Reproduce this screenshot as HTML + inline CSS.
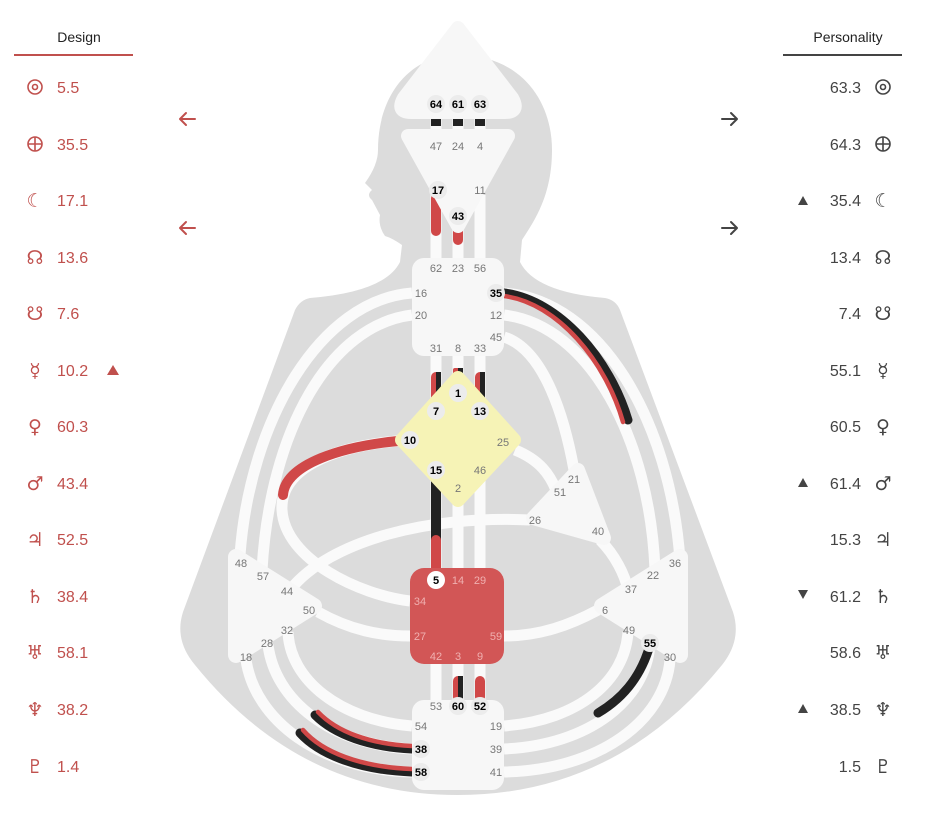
<!DOCTYPE html>
<html><head><meta charset="utf-8"><style>
body{margin:0;background:#fff;width:925px;height:822px;overflow:hidden;font-family:"Liberation Sans",sans-serif;}
</style></head><body>
<svg width="925" height="822" viewBox="0 0 925 822" xmlns="http://www.w3.org/2000/svg" font-family="Liberation Sans, sans-serif">
<!-- silhouette -->
<path fill="#dcdcdc" d="M458 55 C520 55 552 100 552 150 C552 195 535 220 522 240 L520 262 Q535 292 605 298 Q616 300 620 310 L733 612 Q742 640 722 665 Q616 795 458 795 Q300 795 195 665 Q174 640 183 612 L295 310 Q300 300 310 298 Q385 292 400 262 L402 245 Q392 238 385 236 Q378 226 380 215 L372 200 Q366 195 372 190 L365 183 Q378 165 378 150 C378 95 410 55 458 55 Z"/>
<!-- white channels -->
<g fill="none" stroke="#fafafa" stroke-width="11">
<path d="M436 108 V134 M458 108 V134 M480 108 V134"/>
<path d="M436 195 V260 M458 215 V260 M480 195 V260"/>
<path d="M436 354 V400 M458 354 V400 M480 354 V400"/>
<path d="M436 470 V570 M458 480 V570 M480 470 V570"/>
<path d="M436 662 V702 M458 662 V702 M480 662 V702"/>
<path d="M504 293 C600 300 670 420 680 560"/>
<path d="M412 293 C320 300 250 420 240 555"/>
<path d="M412 315 C330 325 270 430 262 570"/>
<path d="M504 315 C590 325 650 440 655 570"/>
<path d="M504 337 C545 350 565 420 574 470"/>
<path d="M410 440 C330 445 280 470 282 510 C285 560 360 595 410 601"/>
<path d="M530 520 C430 515 330 540 290 590"/>
<path d="M318 612 C350 630 380 636 410 636"/>
<path d="M504 636 C540 636 570 625 598 610"/>
<path d="M515 450 C540 460 550 475 556 490"/>
<path d="M600 540 C615 555 625 575 628 590"/>
<path d="M412 726 C340 720 290 680 288 632"/>
<path d="M412 749 C330 745 275 700 268 645"/>
<path d="M412 772 C320 770 255 720 246 660"/>
<path d="M504 726 C580 720 625 680 628 632"/>
<path d="M504 749 C590 745 645 700 650 645"/>
<path d="M504 772 C600 770 665 720 670 660"/>
</g>
<!-- colored channels -->
<g fill="none" stroke-linecap="round">
<path d="M504 293 C560 300 610 360 628 420" stroke="#222" stroke-width="9"/>
<path d="M504 296 C558 303 606 362 623 422" stroke="#d04848" stroke-width="4.5"/>
<path d="M410 440 C340 445 285 465 283 495" stroke="#d04848" stroke-width="10"/>
<path d="M412 749 C370 747 335 735 315 715" stroke="#222" stroke-width="9"/>
<path d="M412 746 C370 744 337 732 318 712" stroke="#d04848" stroke-width="4.5"/>
<path d="M412 772 C360 770 320 755 300 733" stroke="#222" stroke-width="9"/>
<path d="M412 769 C360 767 322 752 303 730" stroke="#d04848" stroke-width="4.5"/>
<path d="M650 645 C640 680 620 700 598 713" stroke="#222" stroke-width="9"/>
<path d="M436 470 V540" stroke="#222" stroke-width="10" stroke-linecap="butt"/>
<path d="M436 540 V570" stroke="#d04848" stroke-width="10"/>
<path d="M436 198 V231" stroke="#d04848" stroke-width="10"/>
<path d="M458 226 V240" stroke="#d04848" stroke-width="10"/>
</g>
<g>
<rect x="431" y="114" width="10" height="12" fill="#222"/>
<rect x="453" y="114" width="10" height="12" fill="#222"/>
<rect x="475" y="114" width="10" height="12" fill="#222"/>
<rect x="431" y="372" width="10" height="30" rx="5" fill="#d04848"/><rect x="436" y="372" width="5" height="30" fill="#222"/>
<rect x="453" y="368" width="10" height="30" rx="2" fill="#d04848"/><rect x="458" y="368" width="5" height="30" fill="#222"/>
<rect x="475" y="372" width="10" height="30" rx="5" fill="#d04848"/><rect x="480" y="372" width="5" height="30" fill="#222"/>
<rect x="453" y="676" width="10" height="26" rx="5" fill="#d04848"/><rect x="458" y="676" width="5" height="26" fill="#222"/>
<rect x="475" y="676" width="10" height="26" rx="5" fill="#d04848"/>
</g>
<!-- centers -->
<g stroke-linejoin="round">
<path d="M458 28 L512 98 Q520 112 505 112 L411 112 Q396 112 404 98 Z" fill="#f7f7f7" stroke="#f7f7f7" stroke-width="14"/>
<path d="M408 136 L508 136 L458 226 Z" fill="#f7f7f7" stroke="#f7f7f7" stroke-width="14"/>
<rect x="412" y="258" width="92" height="98" rx="12" fill="#f7f7f7"/>
<path d="M458 378 L514 440 L458 500 L402 440 Z" fill="#f6f3b6" stroke="#f6f3b6" stroke-width="14"/>
<rect x="410" y="568" width="94" height="96" rx="14" fill="#d25656"/>
<rect x="412" y="700" width="92" height="90" rx="12" fill="#f7f7f7"/>
<path d="M236 557 L314 606 L236 655 Z" fill="#f7f7f7" stroke="#f7f7f7" stroke-width="16"/>
<path d="M680 557 L602 606 L680 655 Z" fill="#f7f7f7" stroke="#f7f7f7" stroke-width="16"/>
<path d="M578 470 L604 538 L533 518 Z" fill="#f7f7f7" stroke="#f7f7f7" stroke-width="14"/>
</g>
<!-- active gate circles -->
<g fill="#ececec">
<circle cx="436" cy="104" r="9"/><circle cx="458" cy="104" r="9"/><circle cx="480" cy="104" r="9"/>
<circle cx="438" cy="190" r="9"/><circle cx="458" cy="216" r="9"/><circle cx="496" cy="293" r="9"/>
<circle cx="458" cy="393" r="9"/><circle cx="436" cy="411" r="9"/><circle cx="480" cy="411" r="9"/>
<circle cx="410" cy="440" r="9"/><circle cx="436" cy="470" r="9"/>
<circle cx="458" cy="706" r="9"/><circle cx="480" cy="706" r="9"/><circle cx="421" cy="749" r="9"/><circle cx="421" cy="772" r="9"/>
<circle cx="650" cy="643" r="9"/><circle cx="436" cy="580" r="9" fill="#fff"/>
</g>
<g font-size="11" text-anchor="middle" fill="#777">
<g font-weight="bold" fill="#000">
<text x="436" y="108">64</text><text x="458" y="108">61</text><text x="480" y="108">63</text>
<text x="438" y="194">17</text><text x="458" y="220">43</text><text x="496" y="297">35</text>
<text x="458" y="397">1</text><text x="436" y="415">7</text><text x="480" y="415">13</text>
<text x="410" y="444">10</text><text x="436" y="474">15</text><text x="436" y="584">5</text>
<text x="458" y="710">60</text><text x="480" y="710">52</text><text x="421" y="753">38</text><text x="421" y="776">58</text>
<text x="650" y="647">55</text>
</g>
<text x="436" y="150">47</text><text x="458" y="150">24</text><text x="480" y="150">4</text>
<text x="480" y="194">11</text>
<text x="436" y="272">62</text><text x="458" y="272">23</text><text x="480" y="272">56</text>
<text x="421" y="297">16</text><text x="421" y="319">20</text><text x="496" y="319">12</text><text x="496" y="341">45</text>
<text x="436" y="352">31</text><text x="458" y="352">8</text><text x="480" y="352">33</text>
<text x="503" y="446">25</text><text x="480" y="474">46</text><text x="458" y="492">2</text>
<g fill="#f0b0b0"><text x="458" y="584">14</text><text x="480" y="584">29</text><text x="420" y="605">34</text><text x="420" y="640">27</text><text x="496" y="640">59</text><text x="436" y="660">42</text><text x="458" y="660">3</text><text x="480" y="660">9</text></g>
<text x="436" y="710">53</text><text x="421" y="730">54</text><text x="496" y="730">19</text><text x="496" y="753">39</text><text x="496" y="776">41</text>
<text x="241" y="567">48</text><text x="263" y="580">57</text><text x="287" y="595">44</text><text x="309" y="614">50</text><text x="287" y="634">32</text><text x="267" y="647">28</text><text x="246" y="661">18</text>
<text x="675" y="567">36</text><text x="653" y="579">22</text><text x="631" y="593">37</text><text x="605" y="614">6</text><text x="629" y="634">49</text><text x="670" y="661">30</text>
<text x="574" y="483">21</text><text x="560" y="496">51</text><text x="535" y="524">26</text><text x="598" y="535">40</text>
</g>
<!-- arrows -->
<g fill="none" stroke-width="2" stroke-linecap="round" stroke-linejoin="round">
<path d="M180 119 H195 M186 113 L180 119 L186 125" stroke="#c0504d"/>
<path d="M180 228 H195 M186 222 L180 228 L186 234" stroke="#c0504d"/>
<path d="M722 119 H737 M731 113 L737 119 L731 125" stroke="#444"/>
<path d="M722 228 H737 M731 222 L737 228 L731 234" stroke="#444"/>
</g>
<!-- headers -->
<text x="79" y="42" font-size="14" text-anchor="middle" fill="#222">Design</text>
<rect x="14" y="54" width="119" height="2" fill="#c0504d"/>
<text x="848" y="42" font-size="14" text-anchor="middle" fill="#222">Personality</text>
<rect x="783" y="54" width="119" height="2" fill="#444"/>
<g fill="none" stroke-width="1.6">
<g stroke="#c0504d"><circle cx="35" cy="87" r="7"/><circle cx="35" cy="87" r="2.5"/><circle cx="35" cy="144" r="7"/><path d="M28 144 H42 M35 137 V151"/></g>
<g stroke="#444"><circle cx="883" cy="87" r="7"/><circle cx="883" cy="87" r="2.5"/><circle cx="883" cy="144" r="7"/><path d="M876 144 H890 M883 137 V151"/></g>
</g>
<g font-size="16" fill="#c0504d">
<g font-family="DejaVu Sans, sans-serif" text-anchor="middle" font-size="19">
<text x="35" y="207">☾</text><text x="35" y="264">☊</text><text x="35" y="320">☋</text><text x="35" y="377">☿</text><text x="35" y="433">♀</text><text x="35" y="490">♂</text><text x="35" y="546">♃</text><text x="35" y="603">♄</text><text x="35" y="659">♅</text><text x="35" y="716">♆</text><text x="35" y="773">♇</text>
</g>
<text x="57" y="93">5.5</text><text x="57" y="150">35.5</text><text x="57" y="206">17.1</text><text x="57" y="263">13.6</text><text x="57" y="319">7.6</text><text x="57" y="376">10.2</text><text x="57" y="432">60.3</text><text x="57" y="489">43.4</text><text x="57" y="545">52.5</text><text x="57" y="602">38.4</text><text x="57" y="658">58.1</text><text x="57" y="715">38.2</text><text x="57" y="772">1.4</text>
<path d="M107 375 L113 365 L119 375 Z"/>
</g>
<g font-size="16" fill="#444">
<g text-anchor="end">
<text x="861" y="93">63.3</text><text x="861" y="150">64.3</text><text x="861" y="206">35.4</text><text x="861" y="263">13.4</text><text x="861" y="319">7.4</text><text x="861" y="376">55.1</text><text x="861" y="432">60.5</text><text x="861" y="489">61.4</text><text x="861" y="545">15.3</text><text x="861" y="602">61.2</text><text x="861" y="658">58.6</text><text x="861" y="715">38.5</text><text x="861" y="772">1.5</text>
</g>
<g font-family="DejaVu Sans, sans-serif" text-anchor="middle" font-size="19">
<text x="883" y="207">☾</text><text x="883" y="264">☊</text><text x="883" y="320">☋</text><text x="883" y="377">☿</text><text x="883" y="433">♀</text><text x="883" y="490">♂</text><text x="883" y="546">♃</text><text x="883" y="603">♄</text><text x="883" y="659">♅</text><text x="883" y="716">♆</text><text x="883" y="773">♇</text>
</g>
<path d="M798 205 L803 196 L808 205 Z"/>
<path d="M798 487 L803 478 L808 487 Z"/>
<path d="M798 590 L803 599 L808 590 Z"/>
<path d="M798 713 L803 704 L808 713 Z"/>
</g>
</svg>
</body></html>
